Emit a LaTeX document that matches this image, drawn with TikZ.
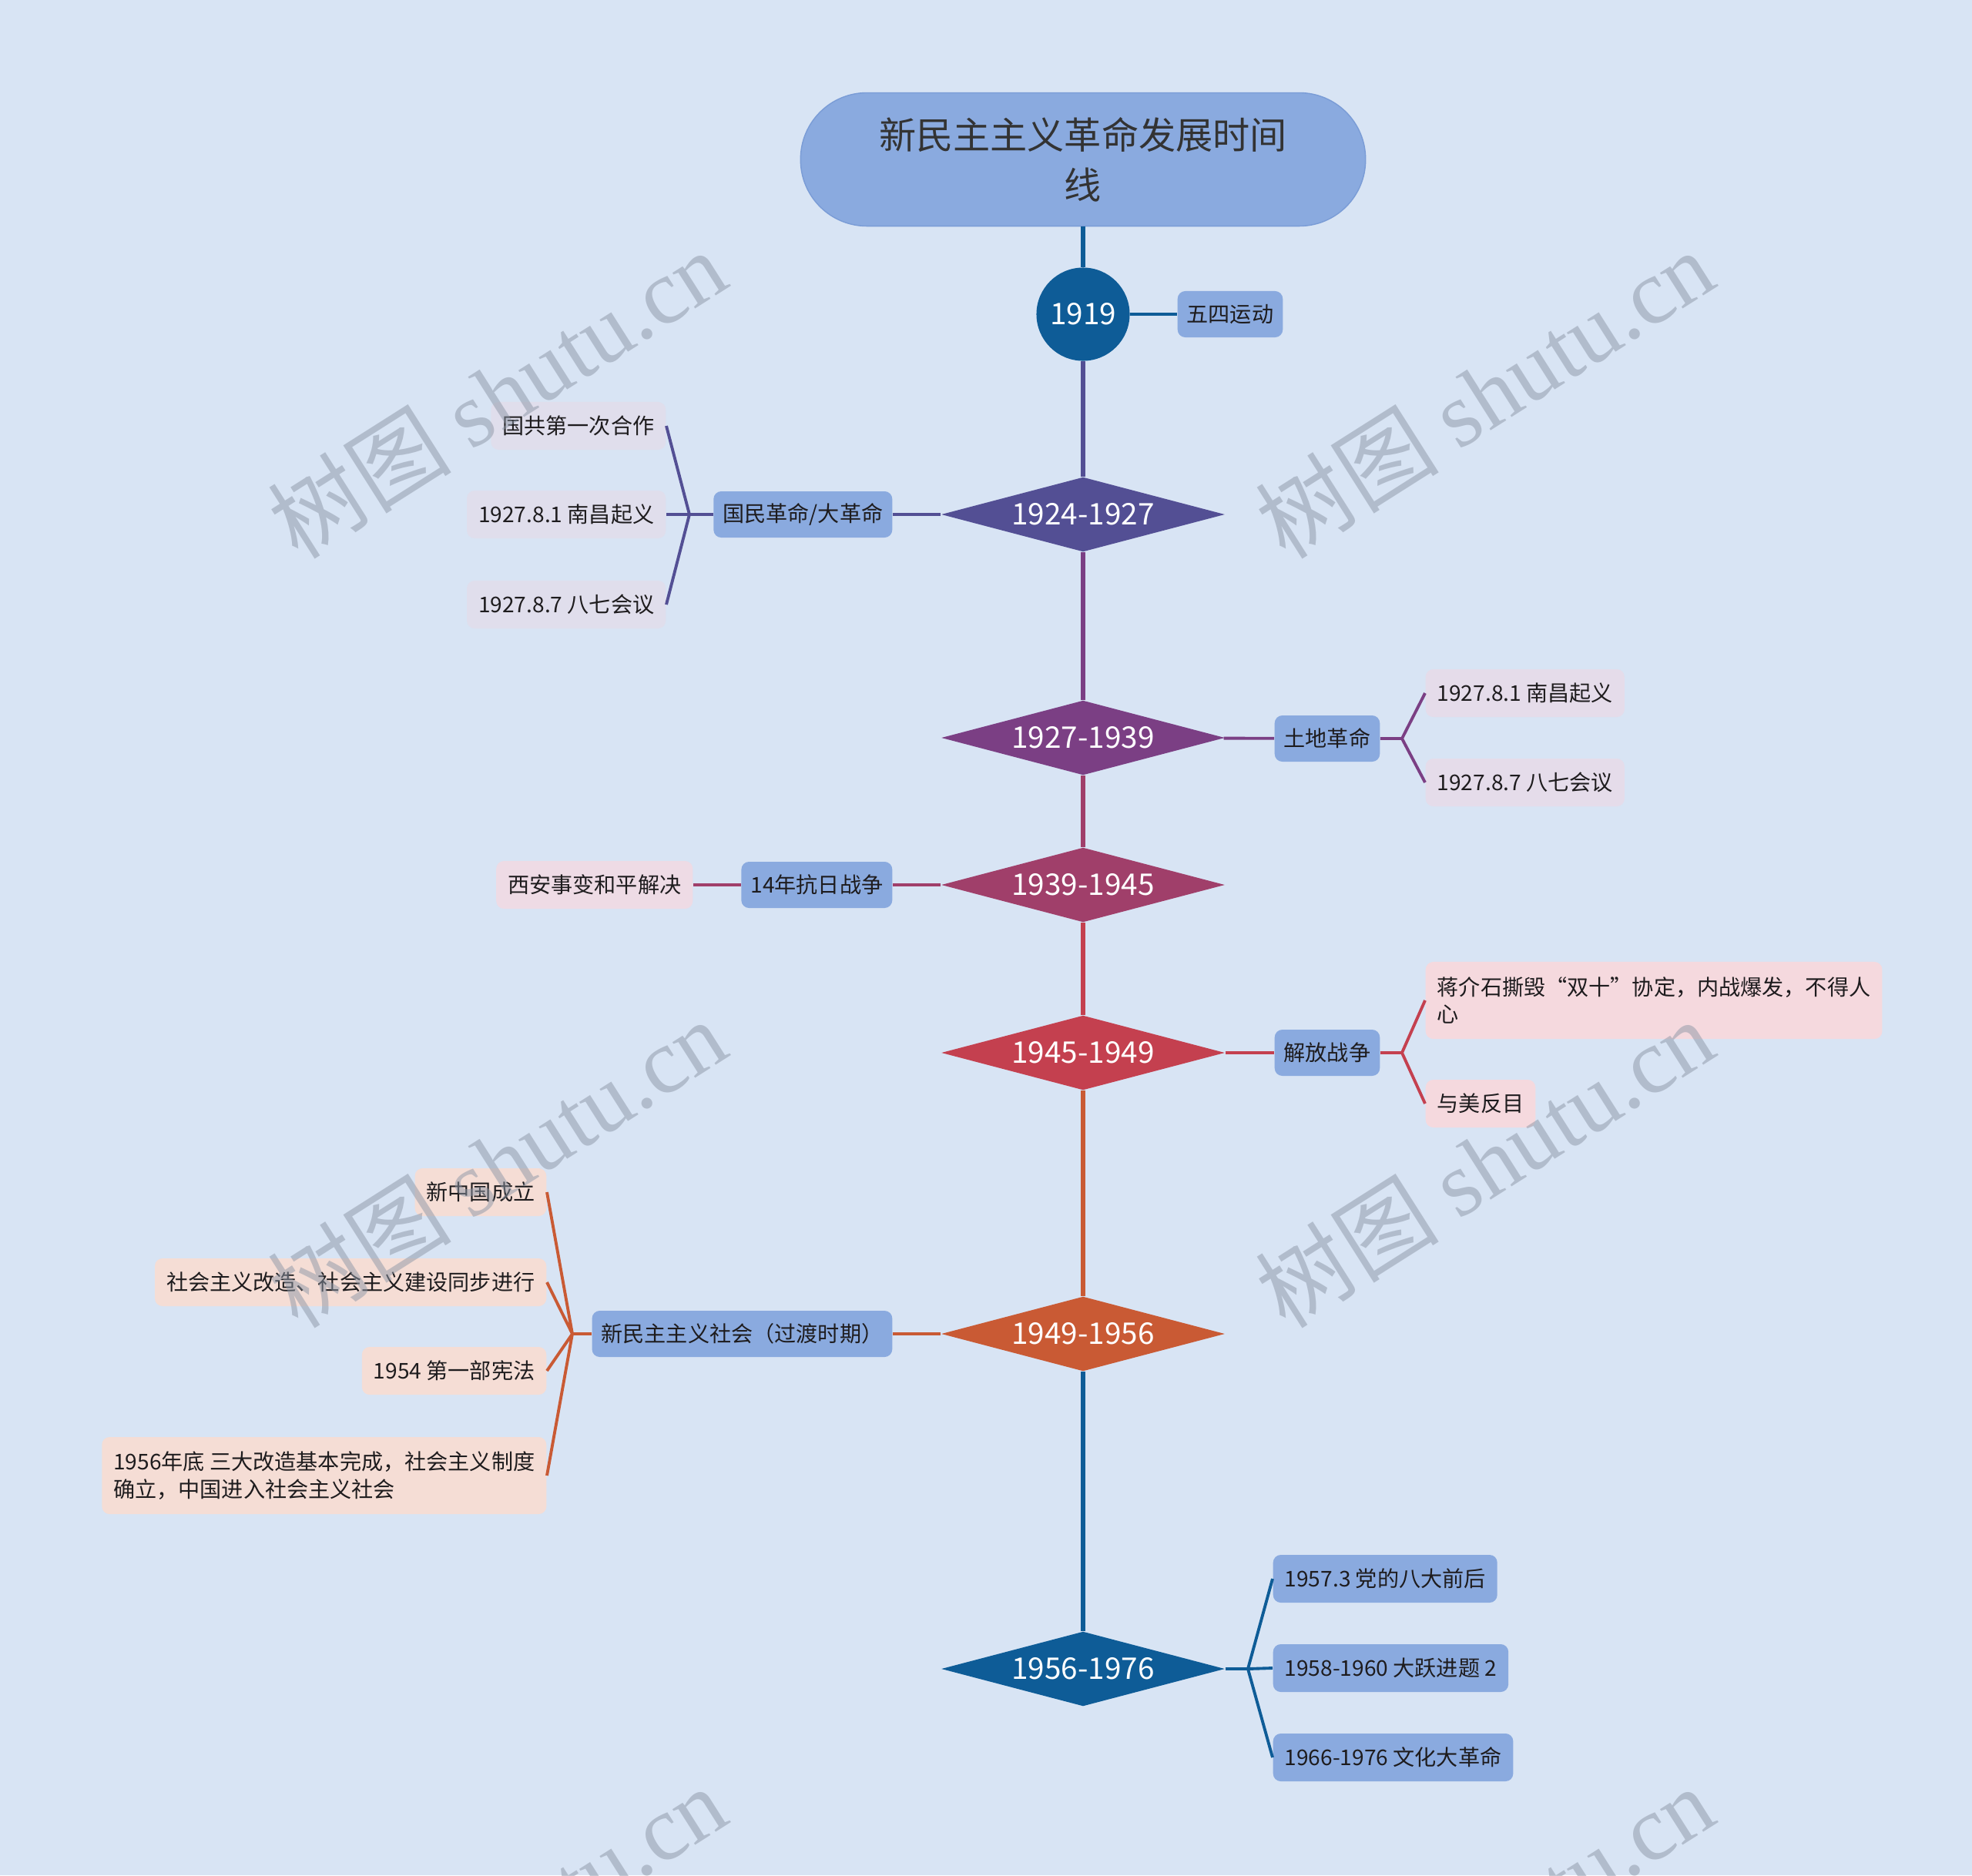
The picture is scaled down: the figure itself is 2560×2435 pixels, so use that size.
\documentclass[tikz,border=0pt]{standalone}
\usepackage{fontspec}
\setmainfont{Noto Sans CJK SC}
\newfontfamily\wmfont{Liberation Serif}
\usetikzlibrary{shapes.geometric}

\definecolor{bgblue}{RGB}{216,228,244}
\definecolor{boxblue}{RGB}{138,170,223}
\definecolor{boxedge}{RGB}{122,156,214}
\definecolor{cA}{RGB}{14,92,151}
\definecolor{cB}{RGB}{83,79,148}
\definecolor{cC}{RGB}{123,63,132}
\definecolor{cD}{RGB}{160,63,106}
\definecolor{cE}{RGB}{196,64,79}
\definecolor{cF}{RGB}{201,90,52}
\definecolor{leafB}{RGB}{224,222,236}
\definecolor{leafC}{RGB}{229,220,234}
\definecolor{leafD}{RGB}{238,219,229}
\definecolor{leafE}{RGB}{245,217,222}
\definecolor{leafF}{RGB}{245,221,213}
\definecolor{inkgray}{RGB}{30,28,30}
\definecolor{wmgray}{RGB}{140,150,166}

\tikzset{
	headline/.style={rectangle, rounded corners=0.86cm, fill=boxblue, draw=boxedge, line width=0.4pt, text=black!80, minimum width=7.33cm, minimum height=1.73cm, align=center, font=\fontsize{13.7}{18.5}\selectfont},
	period/.style={diamond, aspect=3.8, fill=#1, text=white, minimum width=3.68cm, minimum height=0.97cm, inner sep=0pt, font=\fontsize{11}{13}\selectfont},
	topic/.style={rectangle, rounded corners=0.1cm, fill=boxblue, text=inkgray, inner xsep=0.12cm, inner ysep=0pt, minimum height=0.6cm, font=\fontsize{8}{10}\selectfont},
	leaf/.style={rectangle, rounded corners=0.1cm, fill=#1, text=inkgray, inner xsep=0.15cm, inner ysep=0pt, minimum height=0.62cm, align=left, font=\fontsize{8}{10}\selectfont},
	spine/.style={line width=1.5pt, draw=#1},
	twig/.style={line width=1.1pt, draw=#1},
	wmark/.style={text=wmgray, text opacity=0.5, font=\fontsize{34}{38}\selectfont, inner sep=0pt}
}

\begin{document}
\begin{tikzpicture}[x=0.01cm, y=-0.01cm]
			%%%%% START %%%%%
			
			\useasboundingbox (0,0) rectangle (2560,2435);
			\fill[bgblue] (0,0) rectangle (2560,2435);
			
			\node[headline] (title) at (1406,207) {新民主主义革命发展时间\\线};
			\node[circle, fill=cA, text=white, minimum size=1.21cm, inner sep=0pt, font=\fontsize{11}{13}\selectfont] (y1919) at (1406,408) {1919};
			
			\node[period=cB] (p1) at (1406,668) {1924-1927};
			\node[period=cC] (p2) at (1406,958) {1927-1939};
			\node[period=cD] (p3) at (1406,1149) {1939-1945};
			\node[period=cE] (p4) at (1406,1367) {1945-1949};
			\node[period=cF] (p5) at (1406,1732) {1949-1956};
			\node[period=cA] (p6) at (1406,2167) {1956-1976};
			
			\draw[spine=cA] (title) -- (y1919);
			\draw[spine=cB] (y1919) -- (p1);
			\draw[spine=cC] (p1) -- (p2);
			\draw[spine=cD] (p2) -- (p3);
			\draw[spine=cE] (p3) -- (p4);
			\draw[spine=cF] (p4) -- (p5);
			\draw[spine=cA] (p5) -- (p6);
			
			% 1919
			\node[topic, anchor=west] (wusi) at (1528,408) {五四运动};
			\draw[twig=cA] (y1919) -- (wusi);
			
			% 1924-1927
			\node[topic, anchor=east] (t1) at (1159,668) {国民革命/大革命};
			\node[leaf=leafB, anchor=east] (l11) at (865,553) {国共第一次合作};
			\node[leaf=leafB, anchor=east] (l12) at (865,668) {1927.8.1 南昌起义};
			\node[leaf=leafB, anchor=east] (l13) at (865,785) {1927.8.7 八七会议};
			\coordinate (f1) at (895,668);
			\draw[twig=cB] (p1) -- (t1) (t1) -- (f1);
			\draw[twig=cB] (f1) -- (l11.east) (f1) -- (l12.east) (f1) -- (l13.east);
			
			% 1927-1939
			\node[topic, anchor=west] (t2) at (1654,959) {土地革命};
			\node[leaf=leafC, anchor=west] (l21) at (1850,900) {1927.8.1 南昌起义};
			\node[leaf=leafC, anchor=west] (l22) at (1850,1016) {1927.8.7 八七会议};
			\coordinate (f2) at (1820,959);
			\draw[twig=cC] (p2) -- (t2) (t2) -- (f2);
			\draw[twig=cC] (f2) -- (l21.west) (f2) -- (l22.west);
			
			% 1939-1945
			\node[topic, anchor=east] (t3) at (1159,1149) {14年抗日战争};
			\node[leaf=leafD, anchor=east] (l31) at (900,1149) {西安事变和平解决};
			\draw[twig=cD] (p3) -- (t3) (t3) -- (l31);
			
			% 1945-1949
			\node[topic, anchor=west] (t4) at (1654,1367) {解放战争};
			\node[leaf=leafE, anchor=west, minimum height=1cm, font=\fontsize{8}{9.8}\selectfont] (l41) at (1850,1299) {蒋介石撕毁“双十”协定，内战爆发，不得人\\心};
			\node[leaf=leafE, anchor=west] (l42) at (1850,1433) {与美反目};
			\coordinate (f4) at (1820,1367);
			\draw[twig=cE] (p4) -- (t4) (t4) -- (f4);
			\draw[twig=cE] (f4) -- (l41.west) (f4) -- (l42.west);
			
			% 1949-1956
			\node[topic, anchor=east] (t5) at (1159,1732) {新民主主义社会（过渡时期）};
			\node[leaf=leafF, anchor=east] (l51) at (710,1548) {新中国成立};
			\node[leaf=leafF, anchor=east] (l52) at (710,1665) {社会主义改造、社会主义建设同步进行};
			\node[leaf=leafF, anchor=east] (l53) at (710,1780) {1954 第一部宪法};
			\node[leaf=leafF, anchor=east, minimum height=1cm, font=\fontsize{8}{10.2}\selectfont] (l54) at (710,1916) {1956年底 三大改造基本完成，社会主义制度\\确立，中国进入社会主义社会};
			\coordinate (f5) at (743,1732);
			\draw[twig=cF] (p5) -- (t5) (t5) -- (f5);
			\draw[twig=cF] (f5) -- (l51.east) (f5) -- (l52.east) (f5) -- (l53.east) (f5) -- (l54.east);
			
			% 1956-1976
			\node[leaf=boxblue, anchor=west] (l61) at (1652,2050) {1957.3 党的八大前后};
			\node[leaf=boxblue, anchor=west] (l62) at (1652,2166) {1958-1960 大跃进题 2};
			\node[leaf=boxblue, anchor=west] (l63) at (1652,2282) {1966-1976 文化大革命};
			\coordinate (f6) at (1620,2167);
			\draw[twig=cA] (p6) -- (f6);
			\draw[twig=cA] (f6) -- (l61.west) (f6) -- (l62.west) (f6) -- (l63.west);
			
			% watermark
			\begin{scope}
				\clip (0,0) rectangle (2560,2435);
				\foreach \wx in {645,1927}{
					\foreach \wy in {511,1510,2506}{
						\node[wmark, rotate=32.4] at (\wx,\wy) {树图 {\wmfont shutu.cn}};
					}
				}
			\end{scope}
			
			%%%%% END %%%%%
\end{tikzpicture}
\end{document}
